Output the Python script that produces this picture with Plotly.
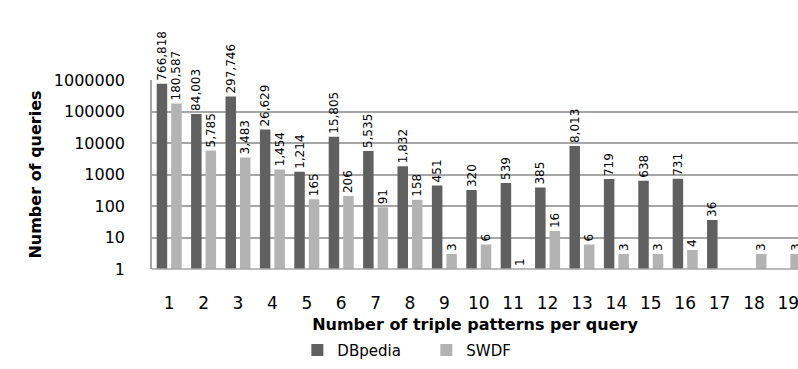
import plotly.graph_objects as go

categories = list(range(1, 20))
dbpedia = [766818, 84003, 297746, 26629, 1214, 15805, 5535, 1832, 451, 320,
           539, 385, 8013, 719, 638, 731, 36, None, None]
swdf = [180587, 5785, 3483, 1454, 165, 206, 91, 158, 3, 6,
        1, 16, 6, 3, 3, 4, None, 3, 3]
y_ticks = [1, 10, 100, 1000, 10000, 100000, 1000000]


def fmt(v):
    return "" if v is None else f"{v:,}"


FONT = "DejaVu Sans"
fig = go.Figure()
for name, vals, col in [("DBpedia", dbpedia, "#606060"), ("SWDF", swdf, "#b3b3b3")]:
    fig.add_trace(go.Bar(x=categories, y=vals, name=name,
                         marker=dict(color=col, line=dict(width=0)),
                         text=[fmt(v) for v in vals], textposition="outside",
                         textangle=-90, cliponaxis=False, constraintext="none",
                         textfont=dict(family=FONT, size=12, color="#000")))

fig.update_layout(
    width=798, height=369,
    margin=dict(l=152, r=0, t=80, b=100, autoexpand=False),
    paper_bgcolor="white", plot_bgcolor="white",
    barmode="group", bargap=0.157, bargroupgap=0.276,
    font=dict(family=FONT, color="#000"),
    showlegend=True,
    legend=dict(orientation="h", x=0.225, xanchor="left", y=-0.43, yanchor="middle",
                font=dict(family=FONT, size=15), itemwidth=30,
                entrywidth=84, entrywidthmode="pixels",
                traceorder="normal"),
)
fig.update_xaxes(
    range=[0.5, 19.28], tickmode="array", tickvals=categories,
    ticktext=[str(c) for c in categories], automargin=False,
    ticklabeloverflow="allow",
    showgrid=False, showline=False, zeroline=False, ticks="",
    tickfont=dict(family=FONT, size=17), ticklabelstandoff=22,
    title=dict(text="<b>Number of triple patterns per query</b>",
               font=dict(family=FONT, size=16), standoff=6),
)
fig.update_yaxes(
    type="log", range=[0, 6], tickmode="array", tickvals=y_ticks,
    ticktext=[str(v) for v in y_ticks], automargin=False,
    showgrid=True, gridcolor="#a6a6a6", gridwidth=1.5,
    showline=True, linecolor="#a6a6a6", linewidth=1.5,
    zeroline=False, ticks="outside", ticklen=22, tickcolor="rgba(0,0,0,0)",
    tickfont=dict(family=FONT, size=16),
    title=dict(text="<b>Number of queries</b>",
               font=dict(family=FONT, size=16), standoff=8),
)
fig.add_shape(type="line", xref="paper", yref="paper", x0=0, x1=1, y0=0, y1=0,
              line=dict(color="#a6a6a6", width=1.5))

fig.write_html(
    "out.html",
    config={"displayModeBar": False},
    post_script="document.body.style.margin='0';document.body.style.overflow='hidden';",
)
